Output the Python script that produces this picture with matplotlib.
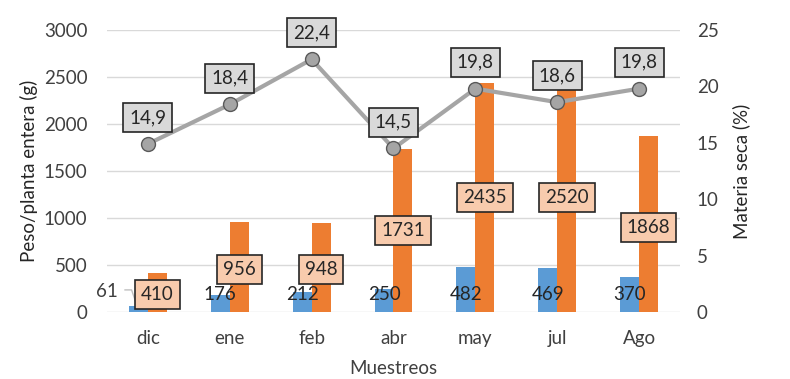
import numpy as np
import matplotlib
matplotlib.use("Agg")
import matplotlib.pyplot as plt

plt.rcParams["font.family"] = ["Lato", "DejaVu Sans"]
plt.rcParams["font.size"] = 13.5

meses = ["dic", "ene", "feb", "abr", "may", "jul", "Ago"]
peso_seco = [61, 176, 212, 250, 482, 469, 370]
peso_fresco = [410, 956, 948, 1731, 2435, 2520, 1868]
materia_seca = [14.9, 18.4, 22.4, 14.5, 19.8, 18.6, 19.8]

# hand-placed label heights (left axis units), as in the original chart
blue_label_y = 190
orange_label_y = [191, 457, 448, 872, 1223, 1223, 894]

blue = "#5b9bd5"
orange = "#ed7d31"
gray = "#a5a5a5"
txt = "#404040"
fs = 13.5

fig = plt.figure(figsize=(7.9, 3.79), dpi=100)
ax = fig.add_axes([107/790, 1-312/379, 573/790, 282/379])
ax2 = ax.twinx()

x = np.arange(len(meses))
w = 0.232
ax.bar(x - w/2, peso_seco, w, color=blue, zorder=2)
ax.bar(x + w/2, peso_fresco, w, color=orange, zorder=2)

ax.set_xlim(-0.5, len(meses) - 0.5)
ax.set_ylim(0, 3000)
ax.set_yticks(range(0, 3001, 500))
ax.grid(axis="y", color="#d9d9d9", lw=1, zorder=0)
ax.set_axisbelow(True)
ax.set_xticks(x)
ax.set_xticklabels(meses)

for i, v in enumerate(peso_seco):
    if i == 0:
        ax.text(i - 0.5, blue_label_y + 30, str(v), ha="center", va="center", color=txt, fontsize=fs, zorder=5)
        ax.plot([i - 0.28, i - 0.2, i - 0.15], [blue_label_y + 45, blue_label_y + 45, blue_label_y - 80],
                color="#bfbfbf", lw=1, zorder=4)
    else:
        ax.text(i - w/2, blue_label_y, str(v), ha="center", va="center", color="#262626", fontsize=fs, zorder=5)

for i, v in enumerate(peso_fresco):
    ax.text(i + w/2, orange_label_y[i], str(v), ha="center", va="center", color="#262626", fontsize=fs,
            zorder=6, bbox=dict(boxstyle="square,pad=0.32", fc="#f8cbad", ec="#262626", lw=1.2))

ax2.plot(x, materia_seca, color=gray, lw=3, marker="o", ms=10, mfc=gray, mec="#595959", mew=1, zorder=3)
ax2.set_ylim(0, 25)
ax2.set_yticks(range(0, 26, 5))
for i, v in enumerate(materia_seca):
    ax2.annotate(f"{v:.1f}".replace(".", ","), (i, v), xytext=(0, 19), textcoords="offset points",
                 ha="center", va="center", color="#262626", fontsize=fs,
                 bbox=dict(boxstyle="square,pad=0.32", fc="#d9d9d9", ec="#262626", lw=1.2))

for a in (ax, ax2):
    for s in a.spines.values():
        s.set_visible(False)
    a.tick_params(length=0, colors="#404040", labelsize=fs)
ax.tick_params(axis="y", pad=14)
ax.tick_params(axis="x", pad=13)
ax2.tick_params(axis="y", pad=12)

ax.set_ylabel("Peso/planta entera (g)", color="#262626", fontsize=fs, labelpad=4)
ax2.set_ylabel("Materia seca (%)", color="#262626", fontsize=fs, labelpad=10)
ax.set_xlabel("Muestreos", color="#404040", fontsize=fs, labelpad=9)

fig.savefig("out.png", dpi=100)
